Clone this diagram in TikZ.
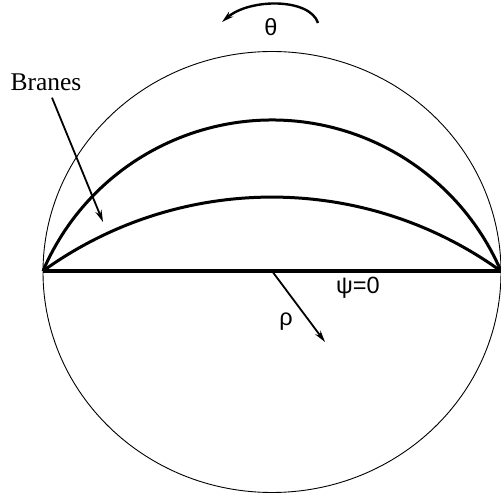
\documentclass[tikz,border=0pt]{standalone}
\usepackage{fontspec}
\setmainfont{Liberation Serif}
\newfontfamily\greekfont{Liberation Sans}
\usetikzlibrary{arrows.meta,positioning}
\tikzset{
  >={Stealth[length=12pt,width=6.5pt]},
  rim/.style={line width=0.9pt},
  brane/.style={line width=3pt},
  axis/.style={line width=3.6pt},
  arr/.style={->,line width=1.8pt},
  lab/.style={font=\fontsize{25.5}{30}\selectfont,inner sep=0pt},
  glab/.style={font=\greekfont\fontsize{23.5}{28}\selectfont,inner sep=0pt},
}

\begin{document}
\begin{tikzpicture}[x=1pt,y=1pt]
  \useasboundingbox (0,0) rectangle (501,498);
  \coordinate (l) at (43,227);
  \coordinate (r) at (501,227);
  \coordinate (o) at (272,227);
  % the disc and the two branes
  \draw[rim] (272,226) ellipse[x radius=229,y radius=220.5];
  \draw[brane] (l) arc[start angle=156.8,end angle=23.2,radius=249.1];
  \draw[brane] (l) arc[start angle=125.8,end angle=54.2,radius=391.3];
  \draw[axis] (l) -- (r);
  % labels
  \node[lab] (br) at (46,416) {Branes};
  \coordinate (bt) at (103,276);
  \draw[arr] ([xshift=6pt,yshift=-7pt]br.south) -- (bt);
  \node[glab] (th) at (271,471) {θ};
  \coordinate (ta) at (318,475);
  \coordinate (tb) at (222,476);
  \draw[arr,line width=2.4pt] (ta) .. controls (310,500) and (250,500) .. (tb);
  \node[glab] (rho) at (286,176) {ρ};
  \coordinate (rt) at (325,156);
  \draw[arr] (o) -- (rt);
  \node[glab] (psi) at (358,210) {ψ=0};
\end{tikzpicture}
\end{document}
